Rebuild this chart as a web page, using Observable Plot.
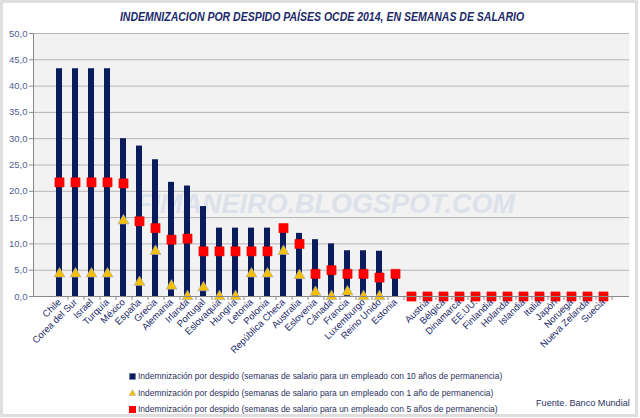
<!DOCTYPE html>
<html>
<head>
<meta charset="utf-8">
<script src="https://cdn.jsdelivr.net/npm/d3@7"></script>
<script src="https://cdn.jsdelivr.net/npm/@observablehq/plot@0.6"></script>
<style>
  html, body { margin: 0; padding: 0; background: #fff; }
  #wrap { position: relative; width: 640px; height: 418px; overflow: hidden; font-family: "Liberation Sans", Arial, sans-serif; }
  #border { position: absolute; left: 0; top: 0; width: 638px; height: 417px; box-sizing: border-box; border: 3px solid #dedede; pointer-events: none; }
  #title { position: absolute; top: 10px; left: 322px; transform: translateX(-50%) scaleX(0.84); white-space: nowrap; font-style: italic; font-weight: bold; font-size: 12.5px; color: #1c2a6a; }
  #chart { position: absolute; left: 0; top: 0; }
  #legend { position: absolute; left: 129px; top: 368px; font-size: 9.5px; color: #2a3160; line-height: 16.5px; }
  #legend .row { display: flex; align-items: center; white-space: nowrap; }
  #legend .row span { display: inline-block; transform: scaleX(0.89); transform-origin: left center; }
  #legend svg { margin-right: 2px; }
  #source { position: absolute; left: 536px; top: 397px; font-size: 9.5px; color: #2a3160; white-space: nowrap; transform: scaleX(0.96); transform-origin: left center; }
</style>
</head>
<body>
<div id="wrap">
  <div id="chart"></div>
  <div id="title">INDEMNIZACION POR DESPIDO PAÍSES OCDE 2014, EN SEMANAS DE SALARIO</div>
  <div id="legend"></div>
  <div id="source">Fuente. Banco Mundial</div>
  <div id="border"></div>
</div>
<script>
const countries = ["Chile","Corea del Sur","Israel","Turquía","México","España","Grecia","Alemania","Irlanda","Portugal","Eslovaquia","Hungría","Letonia","Polonia","República Checa","Australia","Eslovenia","Cánada","Francia","Luxemburgo","Reino Unido","Estonia"," ","Austria","Bélgica","Dinamarca","EE.UU.","Finlandia","Holanda","Islandia","Italia","Japón","Noruega","Nueva Zelanda","Suecia"];
const weeks10 = [43.3,43.3,43.3,43.3,30.0,28.6,26.0,21.7,21.0,17.1,13.0,13.0,13.0,13.0,13.0,12.0,10.8,10.0,8.7,8.7,8.6,4.3,null,null,null,null,null,null,null,null,null,null,null,null,null];
const weeks1  = [4.3,4.3,4.3,4.3,14.4,2.7,8.6,2.0,0,1.7,0,0,4.3,4.3,8.6,4.0,0.8,0,0.9,0,0,null,null,null,null,null,null,null,null,null,null,null,null,null,null];
const weeks5  = [21.7,21.7,21.7,21.7,21.5,14.3,13.0,10.8,11.0,8.6,8.6,8.6,8.6,8.6,13.0,10.0,4.3,5.0,4.3,4.3,3.6,4.3,0,0,0,0,0,0,0,0,0,0,0,0,0];
const yTicks = [0,5,10,15,20,25,30,35,40,45,50];
const legendLabels = [
  "Indemnización por despido (semanas de salario para un empleado con 10 años de permanencia)",
  "Indemnización por despido (semanas de salario para un empleado con 1 año de permanencia)",
  "Indemnización por despido (semanas de salario para un empleado con 5 años de permanencia)"
];
const watermark = "FIMANEIRO.BLOGSPOT.COM";

const navy = "#0b1c5c", gold = "#f5c000", red = "#ff0000";
const rows = countries.map((c, i) => ({country: c, v10: weeks10[i], v1: weeks1[i], v5: weeks5[i]}));

const W = 640, H = 418, mL = 33, mR = 11, mT = 33, mB = 122;
const step = (W - mL - mR) / countries.length;
const font = '"Liberation Sans", Arial, sans-serif';

const chart = Plot.plot({
  width: W, height: H,
  marginLeft: mL, marginRight: mR, marginTop: mT, marginBottom: mB,
  style: {fontFamily: font, background: "transparent", overflow: "visible"},
  x: {type: "band", domain: countries, padding: 0.64, align: 0.5, label: null},
  y: {domain: [0, 50], label: null},
  marks: [
    Plot.frame({fill: "#f2f2f2", stroke: null}),
    Plot.gridY(yTicks, {stroke: "#b4b4b4", strokeOpacity: 1, strokeWidth: 1}),
    Plot.text([watermark], {frameAnchor: "middle", dx: -6, dy: 39, text: d => d, fontSize: 27, fontWeight: "bold", fontStyle: "italic", fill: "#dce1ea", fontFamily: font}),
    Plot.barY(rows.filter(d => d.v10 != null), {x: "country", y: "v10", fill: navy}),
    Plot.dot(rows.filter(d => d.v1 != null), {x: "country", y: "v1", symbol: "triangle", r: 4.1, fill: gold, stroke: "#a3abc4", strokeWidth: 0.6}),
    Plot.dot(rows.filter(d => d.v5 != null), {x: "country", y: "v5", symbol: "square", r: 5.2, fill: red, stroke: "#e80000", strokeWidth: 0.5}),
    Plot.ruleY([0], {stroke: "#8a8a8a"}),
    Plot.frame({anchor: "left", stroke: "#8a8a8a"}),
    Plot.axisY({ticks: yTicks, tickFormat: d => d.toFixed(1).replace(".", ","), tickSize: 4, tickPadding: 2, fontSize: 9.5, color: "#4f5f8f", stroke: "#8a8a8a"}),
    Plot.axisX({tickSize: 4, tickFormat: () => "", dx: step / 2, stroke: "#8a8a8a"}),
    Plot.axisX({tickSize: 0, tickRotate: -45, tickPadding: 4, fontSize: 9.5, fill: "#1c2a6a"})
  ]
});
document.getElementById("chart").appendChild(chart);

const markers = [
  `<svg width="7" height="7"><rect x="0.5" y="0.5" width="6" height="6" fill="${navy}" stroke="#6a7090" stroke-width="0.5"/></svg>`,
  `<svg width="7" height="7"><path d="M3.5,0.5 L6.8,6.5 L0.2,6.5 Z" fill="${gold}" stroke="#a3abc4" stroke-width="0.5"/></svg>`,
  `<svg width="7" height="7"><rect x="0" y="0" width="7" height="7" fill="${red}"/></svg>`
];
document.getElementById("legend").innerHTML = legendLabels.map((t, i) => `<div class="row">${markers[i]}<span>${t}</span></div>`).join("");
</script>
</body>
</html>
